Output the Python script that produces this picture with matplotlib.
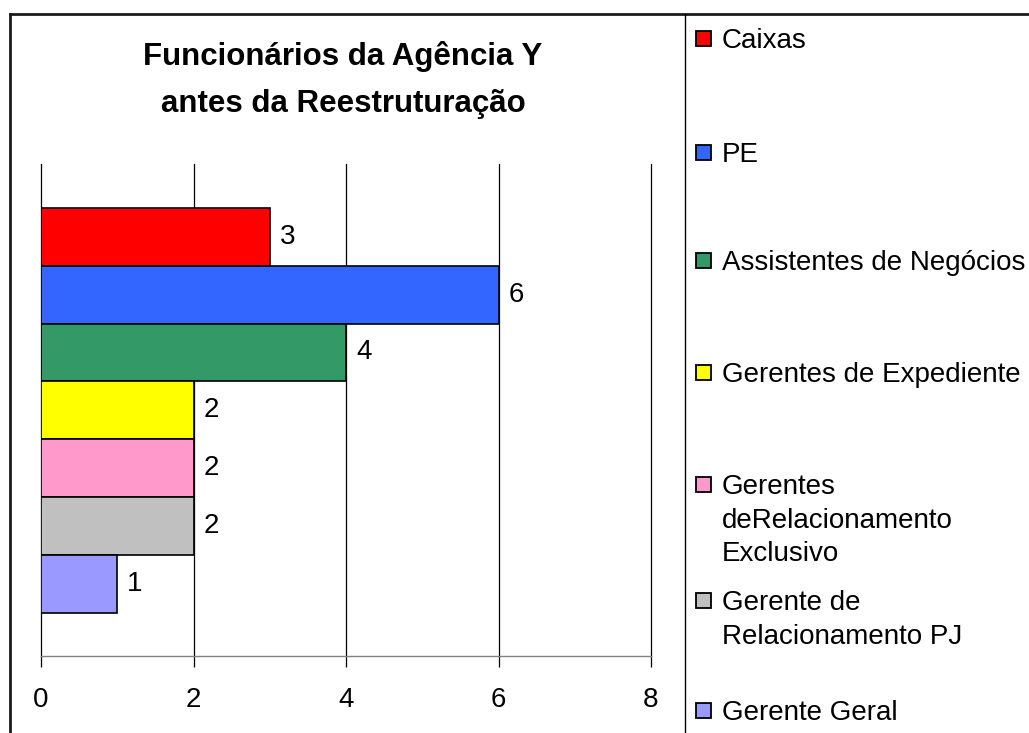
import matplotlib.pyplot as plt
from matplotlib.patches import Rectangle
from matplotlib.lines import Line2D

plt.rcParams['font.family'] = ['Liberation Sans', 'DejaVu Sans']

# data
categories = ['Caixas', 'PE', 'Assistentes de Negócios', 'Gerentes de Expediente',
              'Gerentes\ndeRelacionamento\nExclusivo', 'Gerente de\nRelacionamento PJ',
              'Gerente Geral']
values = [3, 6, 4, 2, 2, 2, 1]
colors = ['#FF0000', '#3366FF', '#339966', '#FFFF00', '#FF99CC', '#C0C0C0', '#9999FF']
xticks = [0, 2, 4, 6, 8]

# legend first-line y positions in pixels (layout only)
legend_y_px = [38, 152, 260, 372, 484, 600, 710]

W, H = 1029, 733
fig = plt.figure(figsize=(W / 100, H / 100), dpi=100)

ax = fig.add_axes([41 / W, (H - 656) / H, 610 / W, 492 / H])
ypos = list(range(len(values)))
ax.barh(ypos, values, height=1.0, color=colors, edgecolor='black', linewidth=1.2, zorder=3)
for y, v in zip(ypos, values):
    ax.text(v + 0.13, y, str(v), va='center', ha='left', fontsize=20, zorder=4)

ax.set_xlim(0, 8)
ax.set_ylim(len(values) - 0.5 + 0.75, -0.5 - 0.76)
ax.set_xticks(xticks)
ax.set_xticklabels([str(t) for t in xticks], fontsize=20)
ax.set_yticks([])
ax.grid(axis='x', color='black', linewidth=0.9, zorder=0)
for gl in ax.get_xgridlines():
    gl.set_clip_on(False)
for s in ['top', 'right', 'left']:
    ax.spines[s].set_visible(False)
ax.spines['bottom'].set_color('#808080')
ax.spines['bottom'].set_linewidth(1.0)
ax.tick_params(axis='x', length=8, width=0.9, color='black', pad=14)

fig.text(343 / W, 1 - 80 / H, 'Funcionários da Agência Y\nantes da Reestruturação',
         ha='center', va='center', fontsize=22.5, fontweight='bold', linespacing=1.75)

# frame lines
fig.add_artist(Line2D([10 / W, 10 / W], [0, 1 - 14 / H], color='#1a1a1a', linewidth=2))
fig.add_artist(Line2D([10 / W, 1], [1 - 14 / H, 1 - 14 / H], color='#1a1a1a', linewidth=2))
fig.add_artist(Line2D([685 / W, 685 / W], [0, 1 - 14 / H], color='black', linewidth=1))

# legend
for lab, col, ypx in zip(categories, colors, legend_y_px):
    fig.add_artist(Rectangle((696 / W, 1 - (ypx + 8) / H), 15 / W, 15 / H,
                             facecolor=col, edgecolor='black', linewidth=1.3))
    fig.text(722 / W, 1 - (ypx - 10) / H, lab, ha='left', va='top',
             fontsize=20, linespacing=1.38)

fig.savefig('out.png', dpi=100, facecolor='white')
